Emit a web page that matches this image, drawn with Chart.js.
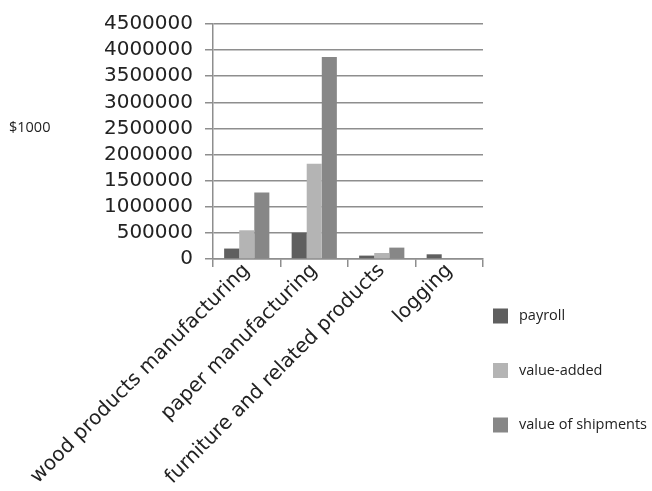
<!DOCTYPE html>
<html>
<head>
<meta charset="utf-8">
<script src="https://cdn.jsdelivr.net/npm/chart.js@4/dist/chart.umd.min.js"></script>
<style>
  html, body { margin: 0; padding: 0; background: #fff; }
</style>
</head>
<body>
<canvas id="chart" width="652" height="491"></canvas>
<script>
// forestry sector figures, in $1000
const categories = [
  'wood products manufacturing',
  'paper manufacturing',
  'furniture and related products',
  'logging'
];
const payroll = [200000, 500000, 65000, 90000];
const valueAdded = [550000, 1825000, 115000, null];
const shipments = [1275000, 3870000, 218000, null];
const seriesNames = ['payroll', 'value-added', 'value of shipments'];
const seriesColors = ['#5f5f5f', '#b4b4b4', '#878787'];
const yTicks = [0, 500000, 1000000, 1500000, 2000000, 2500000, 3000000, 3500000, 4000000, 4500000];

const GRID = '#8e8e8e';

// legend boxes stacked on the right, plus the "$1000" unit label
const sideText = {
  id: 'sideText',
  afterDraw(chart) {
    const ctx = chart.ctx;
    ctx.save();
    ctx.textBaseline = 'middle';
    ctx.textAlign = 'left';
    ctx.fillStyle = '#222';
    ctx.font = '14.5px "Open Sans", sans-serif';
    ctx.fillText('$1000', 9, 128);

    chart.data.datasets.forEach((ds, i) => {
      const cy = 316 + i * 54.5;
      ctx.fillStyle = ds.backgroundColor;
      ctx.fillRect(493, cy - 7.5, 15, 15);
      ctx.fillStyle = '#222';
      ctx.fillText(ds.label, 519, cy);
    });
    ctx.restore();
  }
};

new Chart(document.getElementById('chart'), {
  type: 'bar',
  data: {
    labels: categories,
    datasets: [payroll, valueAdded, shipments].map((values, i) => ({
      label: seriesNames[i],
      data: values,
      backgroundColor: seriesColors[i],
      borderWidth: 0,
      categoryPercentage: 0.67,
      barPercentage: 1.0
    }))
  },
  options: {
    responsive: false,
    animation: false,
    layout: {
      autoPadding: false,
      padding: { top: 24, right: 169, left: 0, bottom: 0 }
    },
    plugins: {
      legend: { display: false },
      tooltip: { enabled: false }
    },
    scales: {
      x: {
        afterFit(scale) { scale.height = 491 - 259; },
        grid: {
          offset: true,
          drawOnChartArea: false,
          drawTicks: true,
          tickLength: 8,
          color: GRID,
          lineWidth: 1.5
        },
        border: { color: GRID, width: 1.5 },
        ticks: {
          minRotation: 45,
          maxRotation: 45,
          autoSkip: false,
          padding: -8,
          color: '#222',
          font: { family: '"DejaVu Sans", sans-serif', size: 20 }
        }
      },
      y: {
        min: 0,
        max: 4500000,
        afterFit(scale) { scale.width = 213; },
        afterBuildTicks(scale) { scale.ticks = yTicks.map(v => ({ value: v })); },
        grid: {
          color: GRID,
          lineWidth: 1.5,
          drawTicks: true,
          tickLength: 8
        },
        border: { color: GRID, width: 1.5 },
        ticks: {
          autoSkip: false,
          padding: 12,
          color: '#222',
          font: { family: '"DejaVu Sans", sans-serif', size: 20 },
          callback: v => String(v)
        }
      }
    }
  },
  plugins: [sideText]
});
</script>
</body>
</html>
